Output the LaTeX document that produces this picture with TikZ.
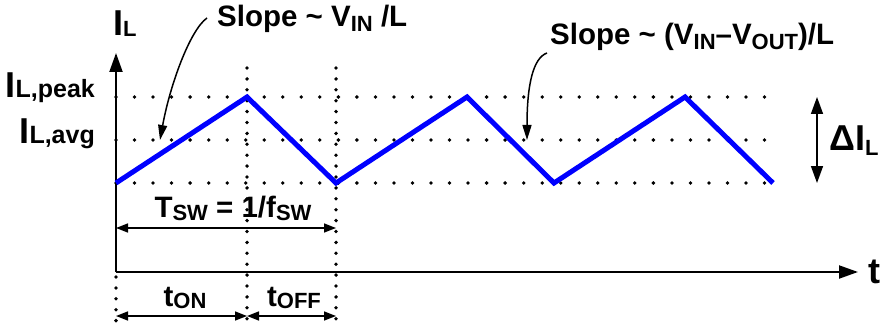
\documentclass[tikz,border=0pt]{standalone}
\usepackage{fontspec}
\setmainfont{Liberation Sans}
\usetikzlibrary{arrows.meta}
\newcommand\sbs[3]{{\fontsize{#2}{#2}\selectfont\raisebox{-#1}{#3}}}
\begin{document}
\begin{tikzpicture}[x=1pt,y=-1pt,
  axis/.style={line width=2pt,-{Triangle[length=19pt,width=13pt]}},
  dimarrow/.style={line width=1.5pt,{Triangle[length=12pt,width=9pt]}-{Triangle[length=12pt,width=9pt]}},
  bigdim/.style={line width=1.5pt,{Triangle[length=17pt,width=12pt]}-{Triangle[length=17pt,width=12pt]}},
  hdots/.style={line width=3.8pt,line cap=round,dash pattern=on 0pt off 18.53pt},
  vdots/.style={line width=3.8pt,line cap=round,dash pattern=on 0pt off 10.9pt},
  wave/.style={blue,line width=5pt,line join=miter},
  pointer/.style={line width=1.5pt,-{Triangle[length=15pt,width=9pt]}},
  lbl/.style={font=\bfseries\fontsize{29.5}{31}\selectfont,inner sep=0pt},
  big/.style={font=\bfseries\fontsize{36}{37}\selectfont,inner sep=0pt}]
\useasboundingbox (0,0) rectangle (883,326);
% reference coordinates
\coordinate (o) at (116,272);
\coordinate (ytip) at (116,53);
\coordinate (xtip) at (858,272);
\coordinate (pk0) at (116,97);  \coordinate (pk1) at (783,97);
\coordinate (av0) at (116,140); \coordinate (av1) at (783,140);
\coordinate (lo0) at (116,183); \coordinate (lo1) at (783,183);
\coordinate (va) at (247,68);  \coordinate (vab) at (247,326);
\coordinate (vb) at (336,68);  \coordinate (vbb) at (336,326);
\coordinate (vc) at (116,277); \coordinate (vcb) at (116,326);
% waveform points
\coordinate (w0) at (116,183);
\coordinate (w1) at (247,97);
\coordinate (w2) at (336,183);
\coordinate (w3) at (467,97);
\coordinate (w4) at (554,183);
\coordinate (w5) at (685,97);
\coordinate (w6) at (773,183);
% dotted guides
\draw[hdots] (pk0) -- (pk1);
\draw[hdots] (av0) -- (av1);
\draw[hdots] (lo0) -- (lo1);
\draw[vdots] (va) -- (vab);
\draw[vdots] (vb) -- (vbb);
\draw[vdots] (vc) -- (vcb);
% axes
\draw[axis] (o) -- (ytip);
\draw[axis] (o) -- (xtip);
% waveform
\draw[wave] (w0) -- (w1) -- (w2) -- (w3) -- (w4) -- (w5) -- (w6);
% dimension arrows
\coordinate (ts0) at (116,228); \coordinate (ts1) at (336,228);
\draw[dimarrow] (ts0) -- (ts1);
\coordinate (on0) at (116,316); \coordinate (on1) at (247,316); \coordinate (off1) at (336,316);
\draw[dimarrow] (on0) -- (on1);
\draw[dimarrow] (on1) -- (off1);
\coordinate (di0) at (817,97); \coordinate (di1) at (817,183);
\draw[bigdim] (di0) -- (di1);
% labels
\node[big,anchor=base west] (il) at (113,36) {I\sbs{1pt}{22}{L}};
\node[big,anchor=base east] (ipk) at (95,98) {I\sbs{0pt}{25}{L,peak}};
\node[big,anchor=base east] (iav) at (95,143) {I\sbs{0pt}{25}{L,avg}};
\node[big,anchor=base west] (dil) at (829,150) {ΔI\sbs{5pt}{22}{L}};
\node[big,anchor=west] (tl) at (868,272) {t};
\node[lbl,anchor=base west] (s1) at (217,27) {Slope \char"007E{} V\sbs{5pt}{22}{IN} /L};
\node[lbl,anchor=base west] (s2) at (550,45) {Slope \char"007E{} (V\sbs{5pt}{22}{IN}–V\sbs{5pt}{22}{OUT})/L};
\node[lbl,anchor=base] (tsw) at (233,217) {T\sbs{3pt}{22}{SW} = 1/f\sbs{3pt}{22}{SW}};
\node[lbl,anchor=base] (ton) at (185,306) {t\sbs{2pt}{22}{ON}};
\node[lbl,anchor=base] (toff) at (294,306) {t\sbs{2pt}{22}{OFF}};
% pointers
\coordinate (p1s) at (207,18); \coordinate (p1e) at (160,140);
\draw[pointer] (p1s) .. controls (190,30) and (170,85) .. (p1e);
\coordinate (p2s) at (547,53); \coordinate (p2e) at (527,140);
\draw[pointer] (p2s) .. controls (533,58) and (527,85) .. (p2e);
\end{tikzpicture}
\end{document}
